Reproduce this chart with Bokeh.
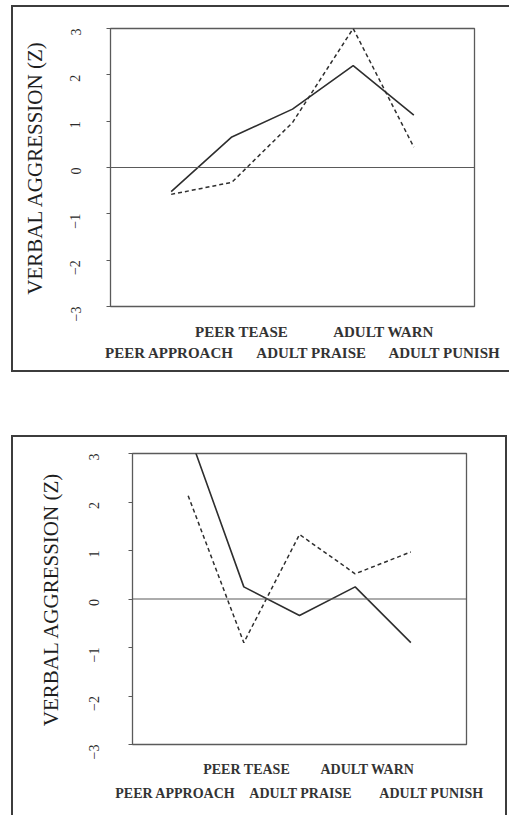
import math
from bokeh.plotting import figure
from bokeh.models import FixedTicker, LinearAxis, Span, Range1d
from bokeh.embed import file_html
from bokeh.resources import INLINE

categories = ["PEER APPROACH", "PEER TEASE", "ADULT PRAISE", "ADULT WARN", "ADULT PUNISH"]
top_solid = [-0.52, 0.66, 1.26, 2.2, 1.13]
top_dashed = [-0.58, -0.32, 0.97, 3.0, 0.44]
bottom_solid = [3.45, 0.25, -0.34, 0.25, -0.9]
bottom_dashed = [2.13, -0.9, 1.33, 0.52, 0.97]
y_ticks = [-3, -2, -1, 0, 1, 2, 3]
y_label = "VERBAL AGGRESSION (Z)"

SERIF = "Liberation Serif"
LINE = "#2e2e2e"
FRAME = "#5a5a5a"

# horizontal nudges of the staggered category captions (layout only)
top_label_nudge = [-0.03, 0.16, 0.31, 0.5, 0.5]
bottom_label_nudge = [-0.23, 0.05, 0.02, 0.22, 0.37]


def panel(solid, dashed, width, height, borders, tick_standoff, label_standoff,
          row1_standoff, row2_standoff, cat_font, nudge, box_styles):
    xs = list(range(1, len(categories) + 1))
    p = figure(width=width, height=height, output_backend="svg", toolbar_location=None,
               x_range=Range1d(0, len(categories) + 1), y_range=Range1d(-3, 3),
               x_axis_location=None, y_axis_location=None,
               min_border_left=borders[0], min_border_right=borders[1],
               min_border_top=borders[2], min_border_bottom=borders[3])
    p.xgrid.visible = False
    p.ygrid.visible = False
    p.outline_line_color = FRAME
    p.outline_line_width = 1.3
    p.background_fill_color = "white"
    p.border_fill_color = "white"

    yax = LinearAxis(ticker=FixedTicker(ticks=y_ticks), axis_label=y_label)
    yax.axis_line_color = FRAME
    yax.major_tick_line_color = FRAME
    yax.major_tick_out = 4
    yax.major_tick_in = 0
    yax.minor_tick_line_color = None
    yax.major_label_orientation = math.pi / 2
    yax.major_label_standoff = tick_standoff
    yax.major_label_text_font = SERIF
    yax.major_label_text_font_size = "14px"
    yax.major_label_text_color = "#2a2a2a"
    yax.axis_label_standoff = label_standoff
    yax.axis_label_text_font = SERIF
    yax.axis_label_text_font_style = "normal"
    yax.axis_label_text_font_size = "21px"
    yax.axis_label_text_color = "#1e1e1e"
    p.add_layout(yax, "left")

    for idx, standoff in (([1, 3], row1_standoff), ([0, 2, 4], row2_standoff)):
        ticks = [xs[i] + nudge[i] for i in idx]
        ax = LinearAxis(ticker=FixedTicker(ticks=ticks))
        ax.major_label_overrides = {xs[i] + nudge[i]: categories[i] for i in idx}
        ax.axis_line_color = None
        ax.major_tick_line_color = None
        ax.minor_tick_line_color = None
        ax.major_tick_out = 0
        ax.major_tick_in = 0
        ax.major_label_standoff = standoff
        ax.major_label_text_font = SERIF
        ax.major_label_text_font_style = "bold"
        ax.major_label_text_font_size = cat_font
        ax.major_label_text_color = "#333333"
        p.add_layout(ax, "below")

    p.add_layout(Span(location=0, dimension="width", line_color=FRAME, line_width=1.1))
    p.line(xs, solid, line_color=LINE, line_width=1.6)
    p.line(xs, dashed, line_color=LINE, line_width=1.5, line_dash="4 3")
    p.styles = box_styles
    return p


bd = "2px solid #3c3c3c"
p1 = panel(top_solid, top_dashed, 498, 367, (97, 37, 21, 68), 31, 16, 17, 2, "15px",
           top_label_nudge,
           {"border-top": bd, "border-left": bd, "border-bottom": bd, "box-sizing": "border-box"})
p1.margin = (5, 0, 0, 11)
p2 = panel(bottom_solid, bottom_dashed, 496, 380, (119, 43, 16, 73), 35, 18, 17, 6, "14px",
           bottom_label_nudge,
           {"border-top": bd, "border-left": bd, "border-right": bd, "box-sizing": "border-box"})
p2.margin = (63, 0, 0, 11)

open("out.html", "w").write(file_html([p1, p2], INLINE))
